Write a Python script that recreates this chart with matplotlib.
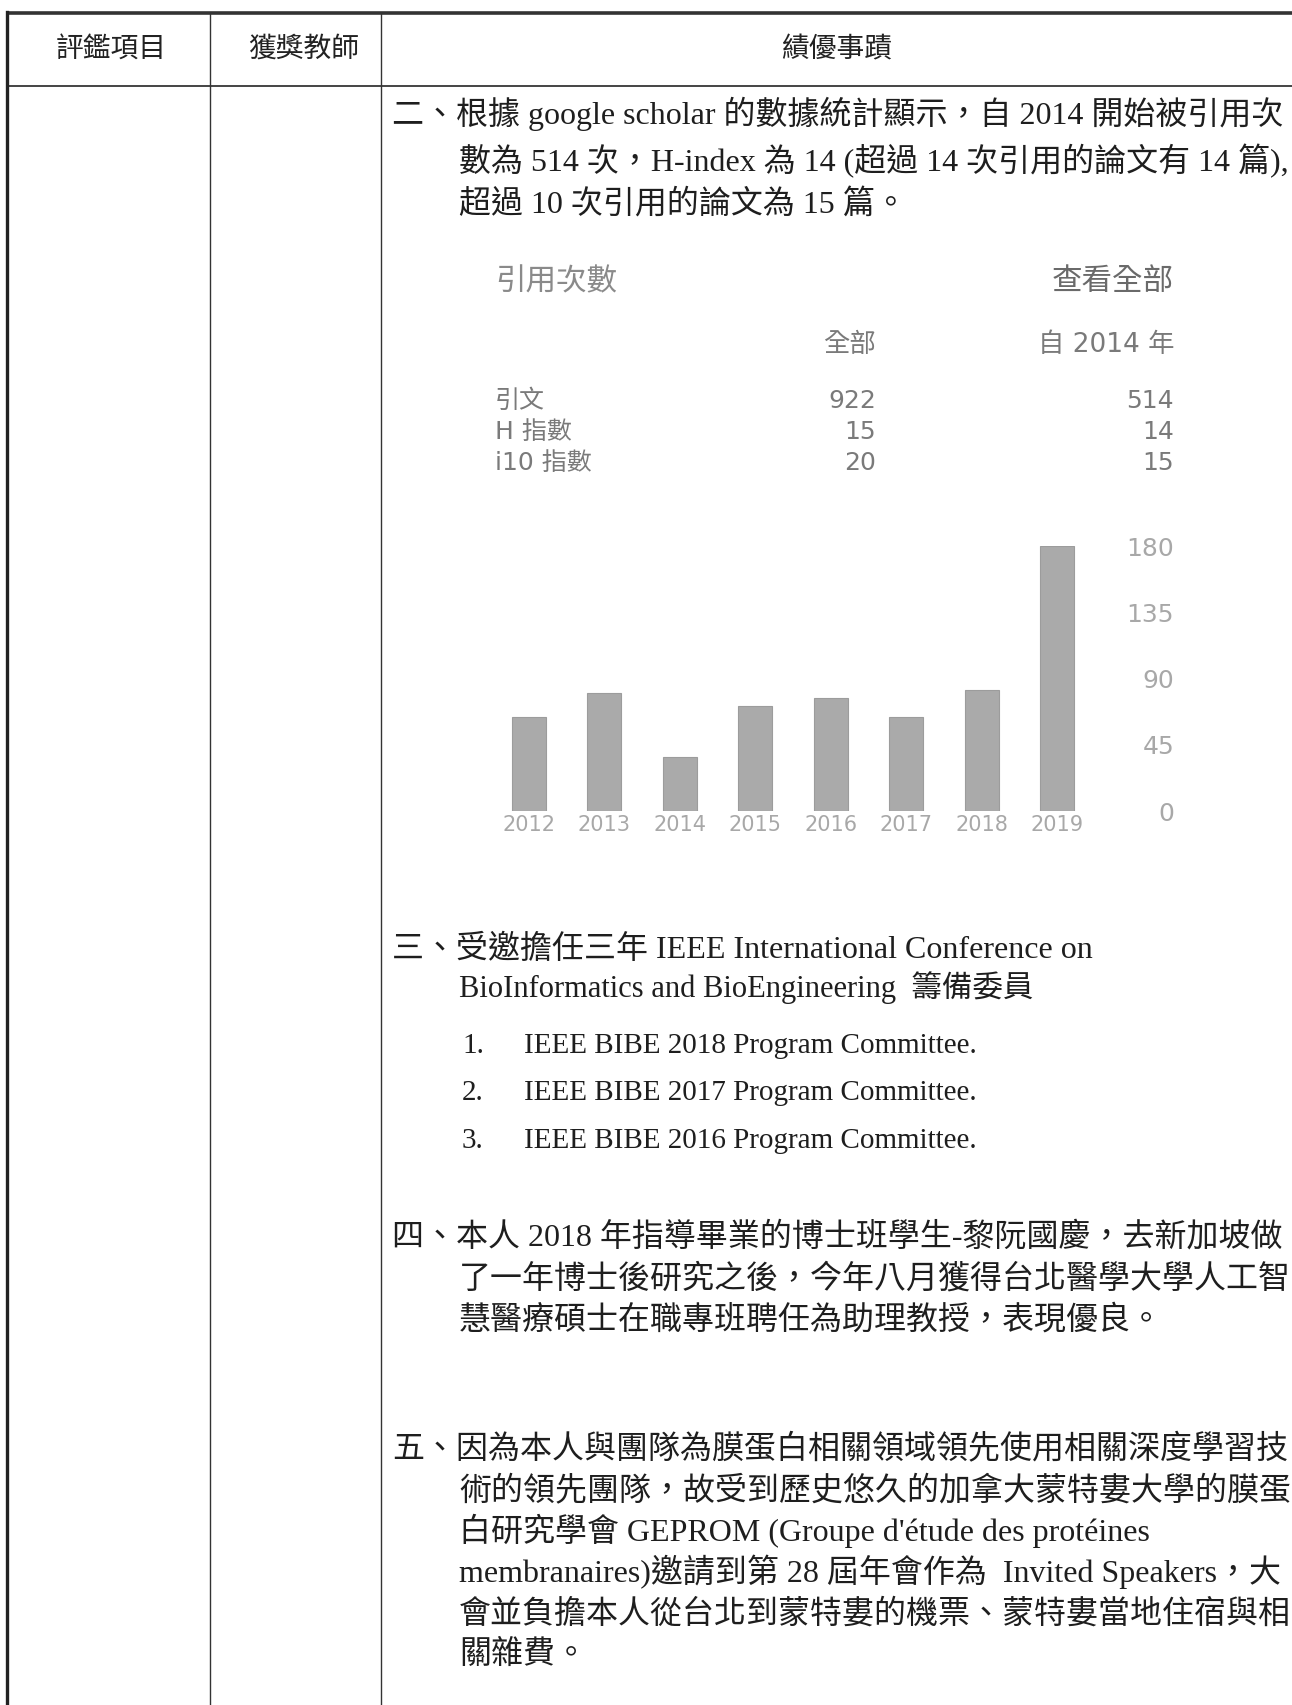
import matplotlib
matplotlib.use("Agg")
import matplotlib.pyplot as plt

# ---------------- data ----------------
header_cols = ["評鑑項目", "獲獎教師", "績優事蹟"]

intro_lines = [
    "二、根據 google scholar 的數據統計顯示，自 2014 開始被引用次",
    "數為 514 次，H-index 為 14 (超過 14 次引用的論文有 14 篇),",
    "超過 10 次引用的論文為 15 篇。",
]

stat_title = "引用次數"
stat_link = "查看全部"
stat_cols = ["全部", "自 2014 年"]
stat_rows = ["引文", "H 指數", "i10 指數"]
stat_all = [922, 15, 20]
stat_since = [514, 14, 15]

years = ["2012", "2013", "2014", "2015", "2016", "2017", "2018", "2019"]
citations = [64, 80, 37, 71, 77, 64, 82, 180]
y_ticks = [0, 45, 90, 135, 180]

sec3_lines = [
    "三、受邀擔任三年 IEEE International Conference on",
    "BioInformatics and BioEngineering  籌備委員",
]
committee_nums = ["1.", "2.", "3."]
committee_items = [
    "IEEE BIBE 2018 Program Committee.",
    "IEEE BIBE 2017 Program Committee.",
    "IEEE BIBE 2016 Program Committee.",
]
sec4_lines = [
    "四、本人 2018 年指導畢業的博士班學生-黎阮國慶，去新加坡做",
    "了一年博士後研究之後，今年八月獲得台北醫學大學人工智",
    "慧醫療碩士在職專班聘任為助理教授，表現優良。",
]
sec5_lines = [
    "五、因為本人與團隊為膜蛋白相關領域領先使用相關深度學習技",
    "術的領先團隊，故受到歷史悠久的加拿大蒙特婁大學的膜蛋",
    "白研究學會 GEPROM (Groupe d'étude des protéines",
    "membranaires)邀請到第 28 屆年會作為  Invited Speakers，大",
    "會並負擔本人從台北到蒙特婁的機票、蒙特婁當地住宿與相",
    "關雜費。",
]

# ---------------- figure ----------------
W, H = 1292, 1705
DPI = 100
fig = plt.figure(figsize=(W / DPI, H / DPI), dpi=DPI, facecolor="white")

SERIF = ["Liberation Serif", "Noto Sans CJK TC", "DejaVu Sans"]
SANS_CJK = ["Noto Sans CJK TC", "DejaVu Sans"]
MIXED_SANS = ["DejaVu Sans", "Noto Sans CJK TC"]
CHART_NUM = ["DejaVu Sans"]

page = fig.add_axes([0, 0, 1, 1])
page.set_xlim(0, W)
page.set_ylim(H, 0)
page.axis("off")

# table lines
page.plot([7, W], [13, 13], color="#333333", lw=2.6, solid_capstyle="butt")
page.plot([7, W], [86, 86], color="#444444", lw=1.4, solid_capstyle="butt")
page.plot([7, 7], [12, H], color="#222222", lw=2.4)
page.plot([210, 210], [13, H], color="#333333", lw=1.0)
page.plot([381, 381], [13, H], color="#333333", lw=1.0)

# header
for x, s in zip([111, 304, 837], header_cols):
    page.text(x, 49, s, family=SANS_CJK, fontsize=20, color="#222222",
              ha="center", va="center")

BODY = 23
TXT = "#1e1e1e"
X_FIRST = 392
X_CONT = 459


def lines(block, ys, size=BODY):
    for i, (s, y) in enumerate(zip(block, ys)):
        page.text(X_FIRST if i == 0 else X_CONT, y, s, family=SERIF,
                  fontsize=size, color=TXT, ha="left", va="center")


lines(intro_lines, [114, 161, 205])

# Scholar stats block
GR = "#7a7a7a"
page.text(495, 282, stat_title, family=SANS_CJK, fontsize=22, color="#8a8a8a",
          ha="left", va="center", fontweight="light")
page.text(1174, 282, stat_link, family=SANS_CJK, fontsize=22, color="#6a6a6a",
          ha="right", va="center")
page.text(876, 345, stat_cols[0], family=SANS_CJK, fontsize=19, color=GR,
          ha="right", va="center")
page.text(1174, 345, stat_cols[1], family=MIXED_SANS, fontsize=19, color=GR,
          ha="right", va="center")
for y, r, a, b in zip([401, 432, 463], stat_rows, stat_all, stat_since):
    page.text(495, y, r, family=MIXED_SANS, fontsize=18, color=GR,
              ha="left", va="center")
    page.text(876, y, str(a), family=CHART_NUM, fontsize=18, color=GR,
              ha="right", va="center")
    page.text(1174, y, str(b), family=CHART_NUM, fontsize=18, color=GR,
              ha="right", va="center")

# bar chart
x0, x1 = 491, 1095
yb, yt = 811, 546
ax = fig.add_axes([x0 / W, (H - yb) / H, (x1 - x0) / W, (yb - yt) / H])
ax.set_facecolor("none")
pos = list(range(len(years)))
ax.bar(pos, citations, width=0.45, color="#aaaaaa", edgecolor="#9c9c9c",
       linewidth=0.8)
ax.set_xlim(-0.5, len(years) - 0.5)
ax.set_ylim(0, 180)
for sp in ax.spines.values():
    sp.set_visible(False)
ax.set_xticks(pos)
ax.set_xticklabels(years, family=CHART_NUM, fontsize=15, color="#a8a8a8")
ax.set_yticks(y_ticks)
ax.set_yticklabels([str(v) for v in y_ticks], family=CHART_NUM, fontsize=18,
                   color="#a8a8a8")
ax.yaxis.tick_right()
ax.tick_params(axis="x", length=0, pad=3)
ax.tick_params(axis="y", length=0, pad=(1174 - x1) * 0.72)
for lab in ax.get_yticklabels():
    lab.set_horizontalalignment("right")

# section 三
page.text(X_FIRST, 950, sec3_lines[0], family=SERIF, fontsize=BODY, color=TXT,
          ha="left", va="center")
page.text(X_CONT, 988, sec3_lines[1], family=SERIF, fontsize=22, color=TXT,
          ha="left", va="center")
for y, n, s in zip([1046, 1093, 1141], committee_nums, committee_items):
    page.text(462, y, n, family=SERIF, fontsize=21, color=TXT, ha="left",
              va="center")
    page.text(524, y, s, family=SERIF, fontsize=21, color=TXT, ha="left",
              va="center")

lines(sec4_lines, [1237, 1279, 1320])
lines(sec5_lines, [1449, 1491, 1531, 1572, 1614, 1655])

fig.savefig("out.png", dpi=DPI, facecolor="white")
